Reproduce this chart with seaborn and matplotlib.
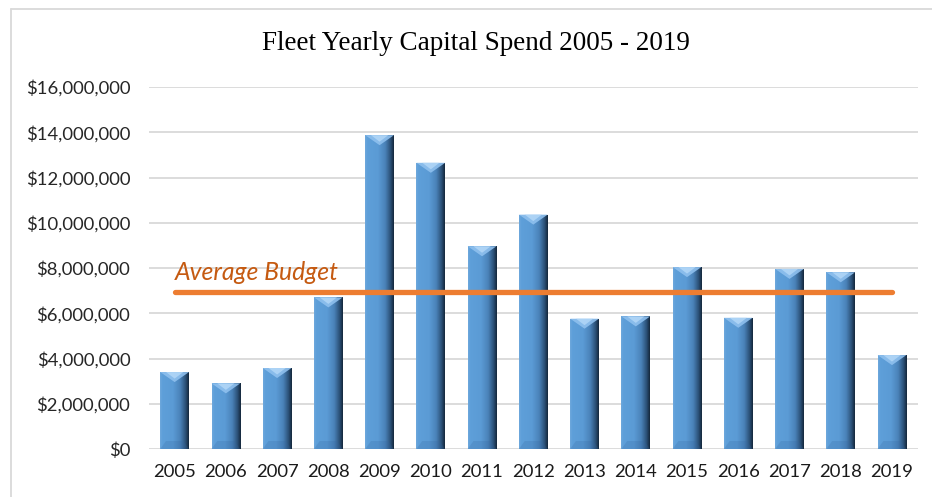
import numpy as np
import pandas as pd
import matplotlib
matplotlib.use("Agg")
import matplotlib.pyplot as plt
from matplotlib.lines import Line2D
from matplotlib.patches import Polygon
from matplotlib.colors import LinearSegmentedColormap
from matplotlib.ticker import FuncFormatter
import seaborn as sns

years = ["2005", "2006", "2007", "2008", "2009", "2010", "2011", "2012",
         "2013", "2014", "2015", "2016", "2017", "2018", "2019"]
spend = [3400000, 2900000, 3580000, 6700000, 13870000, 12650000, 8960000,
         10360000, 5760000, 5860000, 8040000, 5800000, 7960000, 7810000, 4150000]
average_budget = 6950000
title = "Fleet Yearly Capital Spend 2005 - 2019"
budget_label = "Average Budget"

sns.set_theme(style="white")
plt.rcParams["font.family"] = ["Lato", "DejaVu Sans"]

W, H = 932, 497
fig = plt.figure(figsize=(W / 100, H / 100), dpi=100)
fig.patch.set_facecolor("white")

# plot area in pixel terms
left_px, right_px, bottom_px, top_px = 149, 917.6, 449, 87
ax = fig.add_axes([left_px / W, (H - bottom_px) / H,
                   (right_px - left_px) / W, (bottom_px - top_px) / H])

df = pd.DataFrame({"year": years, "spend": spend})
sns.barplot(data=df, x="year", y="spend", color="#5B9BD5", width=0.56,
            ax=ax, zorder=3, saturation=1)

ax.set_xlim(-0.5, len(years) - 0.5)
ax.set_ylim(0, 16000000)
ax.set_yticks(np.arange(0, 16000001, 2000000))
ax.yaxis.set_major_formatter(FuncFormatter(lambda v, p: f"${v:,.0f}"))
ax.grid(axis="y", color="#D9D9D9", linewidth=1.3, zorder=0)
ax.grid(axis="x", visible=False)
for s in ax.spines.values():
    s.set_visible(False)
ax.set_xlabel("")
ax.set_ylabel("")
ax.tick_params(axis="y", length=0, pad=13.5, labelsize=13.3, labelcolor="#262626")
ax.tick_params(axis="x", length=0, pad=10.5, labelsize=13.3, labelcolor="#1a1a1a")

# cylinder-style shading for each bar
shade = LinearSegmentedColormap.from_list(
    "bar_shade",
    [(0.0, "#6FA8DC"), (0.08, "#5E9FD9"), (0.45, "#5B9BD5"),
     (0.7, "#4A82B8"), (0.88, "#2C5279"), (1.0, "#14263A")])
grad = np.linspace(0, 1, 256).reshape(1, -1)
px = 16000000 / (bottom_px - top_px)  # data units per pixel
for patch in ax.patches:
    x0, y0 = patch.get_x(), patch.get_y()
    w, h = patch.get_width(), patch.get_height()
    patch.set_facecolor("none")
    patch.set_edgecolor("none")
    im = ax.imshow(grad, cmap=shade, aspect="auto",
                   extent=[x0, x0 + w, y0, y0 + h], zorder=3,
                   interpolation="bilinear")
    im.set_clip_path(patch)
    d = 10 * px
    # light chevron on top
    ax.add_patch(Polygon([[x0, y0 + h], [x0 + w, y0 + h], [x0 + w / 2, y0 + h - d]],
                         closed=True, facecolor="#8FC0EE", edgecolor="none",
                         alpha=0.9, zorder=4))
    ax.add_patch(Polygon([[x0 + w * 0.2, y0 + h], [x0 + w * 0.8, y0 + h],
                          [x0 + w / 2, y0 + h - d * 0.65]],
                         closed=True, facecolor="#B5D9F8", edgecolor="none",
                         alpha=0.8, zorder=4))
    # subtle bevel at base
    b = 8 * px
    ax.add_patch(Polygon([[x0, y0], [x0 + w, y0], [x0 + w * 0.8, y0 + b],
                          [x0 + w * 0.2, y0 + b]],
                         closed=True, facecolor="#3567A0", edgecolor="none",
                         alpha=0.22, zorder=4))
ax.set_xlim(-0.5, len(years) - 0.5)
ax.set_ylim(0, 16000000)

# average budget line
ax.plot([0, len(years) - 1], [average_budget, average_budget], color="#ED7D31",
        linewidth=3.8, solid_capstyle="round", zorder=5)
ax.text(0.0, average_budget + 12 * px, budget_label, color="#C55A11",
        fontsize=17.8, fontstyle="italic", ha="left", va="baseline", zorder=6)

fig.text(476 / W, 1 - 44 / H, title, family=["Liberation Serif", "DejaVu Serif"],
         fontsize=19.5, ha="center", va="center", color="#000000")

# outer chart frame
fig.add_artist(Line2D([11 / W, 11 / W], [0, 1 - 9 / H], color="#D9D9D9", linewidth=1.3))
fig.add_artist(Line2D([11 / W, 1], [1 - 9 / H, 1 - 9 / H], color="#D9D9D9", linewidth=1.3))

fig.savefig("out.png", dpi=100, facecolor="white")
